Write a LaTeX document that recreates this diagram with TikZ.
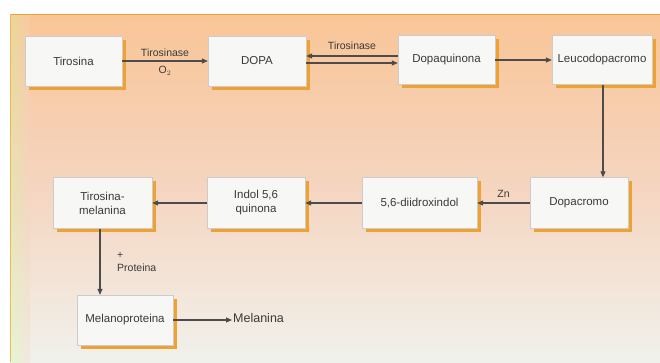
\documentclass[tikz,border=0pt]{standalone}
\usepackage{fontspec}
\setmainfont{Liberation Sans}
\usetikzlibrary{arrows.meta}
\definecolor{shadoworange}{HTML}{EFA232}
\definecolor{boxfill}{HTML}{F7F7F5}
\definecolor{txt}{HTML}{3A3A3A}
\definecolor{bgtop}{HTML}{F9C597}
\definecolor{bgmid}{HTML}{F5D5C0}
\definecolor{bgbot}{HTML}{F1F1EC}
\tikzset{
  px/.style={x=1pt,y=-1pt},
  stepbox/.style={draw=black!20,line width=0.3pt,fill=boxfill,text=txt,
    font=\fontsize{11.5}{14}\selectfont,align=center,inner sep=0pt,
    preaction={draw=none,fill=shadoworange,transform canvas={shift={(3.5pt,-3.5pt)}}}},
  conn/.style={draw=black!70,line width=1.1pt,-{Triangle[length=6pt,width=5pt]}},
  lbl/.style={text=txt,font=\fontsize{10.5}{13}\selectfont,inner sep=1pt}
}
\begin{document}
\begin{tikzpicture}[px]
\useasboundingbox (0,0) rectangle (660,362);
\fill[white] (0,0) rectangle (660,362);
% background panel
\shade[top color=bgtop,bottom color=bgbot,middle color=bgmid] (10,14) rectangle (660,362);
\shade[left color=yellow!50!green!40,right color=bgmid,opacity=0.3] (11,14) rectangle (30,362);
\draw[shadoworange,line width=1.2pt] (10,14.5) -- (660,14.5);
\draw[shadoworange!80,line width=0.8pt] (10.5,14) -- (10.5,362);
% nodes
\node[stepbox,minimum width=97pt,minimum height=50pt] (tir) at (73.5,61) {Tirosina};
\node[stepbox,minimum width=98pt,minimum height=50pt] (dopa) at (257,61) {DOPA};
\node[stepbox,minimum width=97pt,minimum height=49pt] (dq) at (446.5,60) {Dopaquinona};
\node[stepbox,minimum width=100pt,minimum height=49pt] (leu) at (602,60) {Leucodopacromo};
\node[stepbox,minimum width=98pt,minimum height=51pt] (dcr) at (579,203) {Dopacromo};
\node[stepbox,minimum width=115pt,minimum height=51pt] (did) at (419.5,203) {5,6-diidroxindol};
\node[stepbox,minimum width=98pt,minimum height=51pt] (ind) at (256,203) {Indol 5,6\\quinona};
\node[stepbox,minimum width=99pt,minimum height=51pt] (tm) at (102.5,203) {Tirosina-\\melanina};
\node[stepbox,minimum width=96pt,minimum height=50pt] (mp) at (125,320) {Melanoproteina};
\node[lbl,font=\fontsize{12.5}{14}\selectfont,anchor=west] (mel) at (232,318) {Melanina};
% connectors
\draw[conn] (tir) -- (dopa) node[lbl,midway,above=3pt] (t1) {Tirosinase}
  node[lbl,midway,below=4pt] (o2) {O$_2$};
\draw[conn] (dq.west |- 0,56) -- (dopa.east |- 0,56)
  node[lbl,midway,above=5pt] (t2) {Tirosinase};
\draw[conn] (dopa.east |- 0,63) -- (dq.west |- 0,63);
\draw[conn] (dq) -- (leu);
\draw[conn] (leu.south -| 603,0) -- (dcr.north -| 603,0);
\draw[conn] (dcr) -- (did) node[lbl,midway,above=4pt] (zn) {Zn};
\draw[conn] (did) -- (ind);
\draw[conn] (ind) -- (tm);
\draw[conn] (tm.south -| 100,0) -- (mp.north -| 100,0);
\node[lbl,anchor=west,align=left] (prot) at (116,262) {+\\Proteina};
\draw[conn] (mp.east) -- (mp.east -| mel.west);
\end{tikzpicture}
\end{document}
